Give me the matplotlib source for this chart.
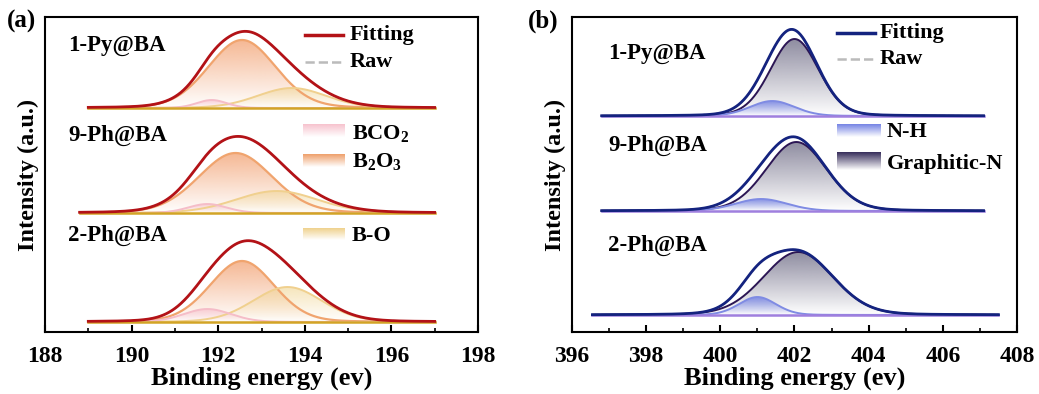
import numpy as np
import matplotlib
matplotlib.use("Agg")
import matplotlib.pyplot as plt
from matplotlib.patches import Polygon
from matplotlib.colors import to_rgb
from matplotlib.ticker import MultipleLocator

plt.rcParams['font.family'] = ['Liberation Serif', 'DejaVu Serif']
plt.rcParams['font.weight'] = 'bold'
plt.rcParams['mathtext.fontset'] = 'custom'
plt.rcParams['mathtext.rm'] = 'Liberation Serif:bold'
plt.rcParams['mathtext.it'] = 'Liberation Serif:bold'
plt.rcParams['mathtext.bf'] = 'Liberation Serif:bold'

# ---------------- data ----------------
samples = ['1-Py@BA', '9-Ph@BA', '2-Ph@BA']

# panel (a): B 1s
a_offsets = [224, 119, 10]
a_ranges = [(189.0, 197.0), (188.8, 197.0), (189.0, 197.0)]
a_bco2_center = [191.85, 191.75, 191.75]
a_bco2_height = [8, 9, 13]
a_bco2_sigma = [0.35, 0.45, 0.55]
a_b2o3_center = [192.55, 192.4, 192.55]
a_b2o3_height = [68, 60, 61]
a_b2o3_sigma = [0.78, 0.85, 0.74]
a_bo_center = [193.7, 193.35, 193.6]
a_bo_height = [20, 22, 35]
a_bo_sigma = [0.8, 0.95, 0.8]

# panel (b): N 1s
b_offsets = [216, 121, 17]
b_ranges = [(396.8, 407.1), (396.8, 407.1), (396.55, 407.5)]
b_nh_center = [401.4, 401.1, 401.0]
b_nh_height = [15, 12, 18]
b_nh_sigma = [0.6, 0.7, 0.5]
b_gn_center = [402.0, 402.05, 402.1]
b_gn_height = [77, 69, 63]
b_gn_sigma = [0.65, 0.82, 0.94]

a_xticks = [188, 190, 192, 194, 196, 198]
b_xticks = [396, 398, 400, 402, 404, 406, 408]

ETA = 0.12


def peak(x, c, h, s):
    g = np.exp(-(x - c) ** 2 / (2 * s ** 2))
    hw = 1.1774 * s
    lor = 1.0 / (1.0 + ((x - c) / hw) ** 2)
    return h * ((1 - ETA) * g + ETA * lor)


def gradient(color, a_top, a_bot):
    n = 256
    arr = np.zeros((n, 1, 4))
    arr[:, :, :3] = to_rgb(color)
    arr[:, 0, 3] = np.linspace(a_top, a_bot, n)
    return arr


def comp(ax, x, base, y, fill_color, line_color, lw, z, a_top=0.85):
    top = base + y
    verts = np.column_stack([np.r_[x, x[::-1]], np.r_[top, np.full_like(x, base)]])
    poly = Polygon(verts, closed=True, facecolor='none', edgecolor='none')
    ax.add_patch(poly)
    im = ax.imshow(gradient(fill_color, a_top, 0.0),
                   extent=[x.min(), x.max(), base, top.max()],
                   aspect='auto', origin='upper', zorder=z,
                   interpolation='bilinear')
    im.set_clip_path(poly)
    ax.plot(x, top, color=line_color, lw=lw, zorder=z + 0.5,
            solid_capstyle='round')


def legend_patch(ax, x0, x1, y0, y1, color):
    ax.imshow(gradient(color, 0.95, 0.0), extent=[x0, x1, y0, y1],
              transform=ax.transAxes, aspect='auto', origin='upper',
              zorder=6, interpolation='bilinear')


fig = plt.figure(figsize=(10.39, 3.94), dpi=100)
W, H = 1039, 394
ax_a = fig.add_axes([45 / W, 62 / H, 433 / W, 315 / H])
ax_b = fig.add_axes([572 / W, 62 / H, 445 / W, 315 / H])

# ----- panel (a) -----
a_fit_color = '#B31217'
a_base_color = '#D2A425'
for i in range(3):
    x = np.linspace(a_ranges[i][0], a_ranges[i][1], 600)
    base = a_offsets[i]
    y1 = peak(x, a_bco2_center[i], a_bco2_height[i], a_bco2_sigma[i])
    y2 = peak(x, a_b2o3_center[i], a_b2o3_height[i], a_b2o3_sigma[i])
    y3 = peak(x, a_bo_center[i], a_bo_height[i], a_bo_sigma[i])
    comp(ax_a, x, base, y2, '#F3A679', '#F0A46E', 1.6, 2, 0.8)
    comp(ax_a, x, base, y3, '#F0D48F', '#F0D08E', 1.4, 2.2, 0.6)
    comp(ax_a, x, base, y1, '#F7BFCB', '#F5BDC8', 1.4, 2.4, 0.7)
    ax_a.plot(x, np.full_like(x, base), color=a_base_color, lw=1.8, zorder=3)
    fit = y1 + y2 + y3
    ax_a.plot(x, base + fit, color='#AAAAAA', lw=1.2, ls='--', zorder=3.5)
    ax_a.plot(x, base + fit, color=a_fit_color, lw=2.0, zorder=4)

# ----- panel (b) -----
b_fit_color = '#14237F'
b_base_color = '#9F7FDE'
for i in range(3):
    x = np.linspace(b_ranges[i][0], b_ranges[i][1], 600)
    base = b_offsets[i]
    y1 = peak(x, b_nh_center[i], b_nh_height[i], b_nh_sigma[i])
    y2 = peak(x, b_gn_center[i], b_gn_height[i], b_gn_sigma[i])
    comp(ax_b, x, base, y2, '#5E5B78', '#2C1654', 1.4, 2, 0.7)
    comp(ax_b, x, base, y1, '#6D7CE3', '#7F8BE3', 1.4, 2.4, 0.8)
    ax_b.plot(x, np.full_like(x, base), color=b_base_color, lw=1.8, zorder=3)
    fit = y1 + y2
    ax_b.plot(x, base + fit, color='#888888', lw=1.2, ls='--', zorder=3.5)
    ax_b.plot(x, base + fit, color=b_fit_color, lw=2.0, zorder=4)

# ----- axes styling -----
for ax, ticks in ((ax_a, a_xticks), (ax_b, b_xticks)):
    ax.set_xlim(ticks[0], ticks[-1])
    ax.set_ylim(0, 315)
    ax.set_xticks(ticks)
    ax.xaxis.set_minor_locator(MultipleLocator(1))
    ax.set_yticks([])
    ax.tick_params(axis='x', which='major', direction='in', length=5,
                   width=1.5, labelsize=17, pad=10)
    ax.tick_params(axis='x', which='minor', direction='in', length=3,
                   width=1.2)
    for sp in ax.spines.values():
        sp.set_linewidth(1.5)
    ax.set_xlabel('Binding energy (ev)', fontsize=19, fontweight='bold',
                  labelpad=0)
    ax.set_ylabel('Intensity (a.u.)', fontsize=17.5, fontweight='bold',
                  labelpad=4)

# sample labels
for ax, x0, ys in ((ax_a, (68 - 45) / 433, [45, 135, 235]),
                   (ax_b, (608 - 572) / 445, [53, 145, 245])):
    for s, py in zip(samples, ys):
        ax.text(x0, (332 - py) / 315, s, transform=ax.transAxes,
                fontsize=16.5, fontweight='bold', va='center', ha='left',
                zorder=7)

# panel letters
fig.text(7 / W, 1 - 21 / H, '(a)', fontsize=18, fontweight='bold',
         va='center', ha='left')
fig.text(528 / W, 1 - 21 / H, '(b)', fontsize=18, fontweight='bold',
         va='center', ha='left')


def fx(ax_left, ax_w, px):
    return (px - ax_left) / ax_w


def fy(py):
    return (332 - py) / 315


# legend (a)
L, Wd = 45, 433
ax_a.plot([fx(L, Wd, 305), fx(L, Wd, 343)], [fy(35), fy(35)],
          transform=ax_a.transAxes, color=a_fit_color, lw=2.5, zorder=6)
ax_a.plot([fx(L, Wd, 305), fx(L, Wd, 343)], [fy(62), fy(62)],
          transform=ax_a.transAxes, color='#BBBBBB', lw=1.8, ls='--',
          zorder=6)
ax_a.text(fx(L, Wd, 350), fy(35), 'Fitting', transform=ax_a.transAxes,
          fontsize=16, va='center', ha='left', zorder=7)
ax_a.text(fx(L, Wd, 350), fy(62), 'Raw', transform=ax_a.transAxes,
          fontsize=16, va='center', ha='left', zorder=7)
legend_patch(ax_a, fx(L, Wd, 303), fx(L, Wd, 345), fy(137), fy(124), '#F7BFCB')
legend_patch(ax_a, fx(L, Wd, 303), fx(L, Wd, 345), fy(167), fy(154), '#EE9A62')
legend_patch(ax_a, fx(L, Wd, 303), fx(L, Wd, 345), fy(240), fy(228), '#EFCF86')
ax_a.text(fx(L, Wd, 352), fy(133), r'BCO$_2$', transform=ax_a.transAxes,
          fontsize=16, va='center', ha='left', zorder=7)
ax_a.text(fx(L, Wd, 352), fy(161), r'B$_2$O$_3$', transform=ax_a.transAxes,
          fontsize=16, va='center', ha='left', zorder=7)
ax_a.text(fx(L, Wd, 352), fy(236), 'B-O', transform=ax_a.transAxes,
          fontsize=16, va='center', ha='left', zorder=7)

# legend (b)
L, Wd = 572, 445
ax_b.plot([fx(L, Wd, 837), fx(L, Wd, 875)], [fy(33), fy(33)],
          transform=ax_b.transAxes, color=b_fit_color, lw=2.5, zorder=6)
ax_b.plot([fx(L, Wd, 837), fx(L, Wd, 875)], [fy(59), fy(59)],
          transform=ax_b.transAxes, color='#BBBBBB', lw=1.8, ls='--',
          zorder=6)
ax_b.text(fx(L, Wd, 880), fy(33), 'Fitting', transform=ax_b.transAxes,
          fontsize=16, va='center', ha='left', zorder=7)
ax_b.text(fx(L, Wd, 880), fy(59), 'Raw', transform=ax_b.transAxes,
          fontsize=16, va='center', ha='left', zorder=7)
legend_patch(ax_b, fx(L, Wd, 837), fx(L, Wd, 881), fy(137), fy(124), '#6D7CE3')
legend_patch(ax_b, fx(L, Wd, 837), fx(L, Wd, 881), fy(170), fy(153), '#2A2050')
ax_b.text(fx(L, Wd, 887), fy(132), 'N-H', transform=ax_b.transAxes,
          fontsize=16, va='center', ha='left', zorder=7)
ax_b.text(fx(L, Wd, 887), fy(164), 'Graphitic-N', transform=ax_b.transAxes,
          fontsize=16, va='center', ha='left', zorder=7)

ax_a.set_xlim(a_xticks[0], a_xticks[-1])
ax_b.set_xlim(b_xticks[0], b_xticks[-1])
ax_a.set_ylim(0, 315)
ax_b.set_ylim(0, 315)

fig.savefig('out.png', dpi=100)
